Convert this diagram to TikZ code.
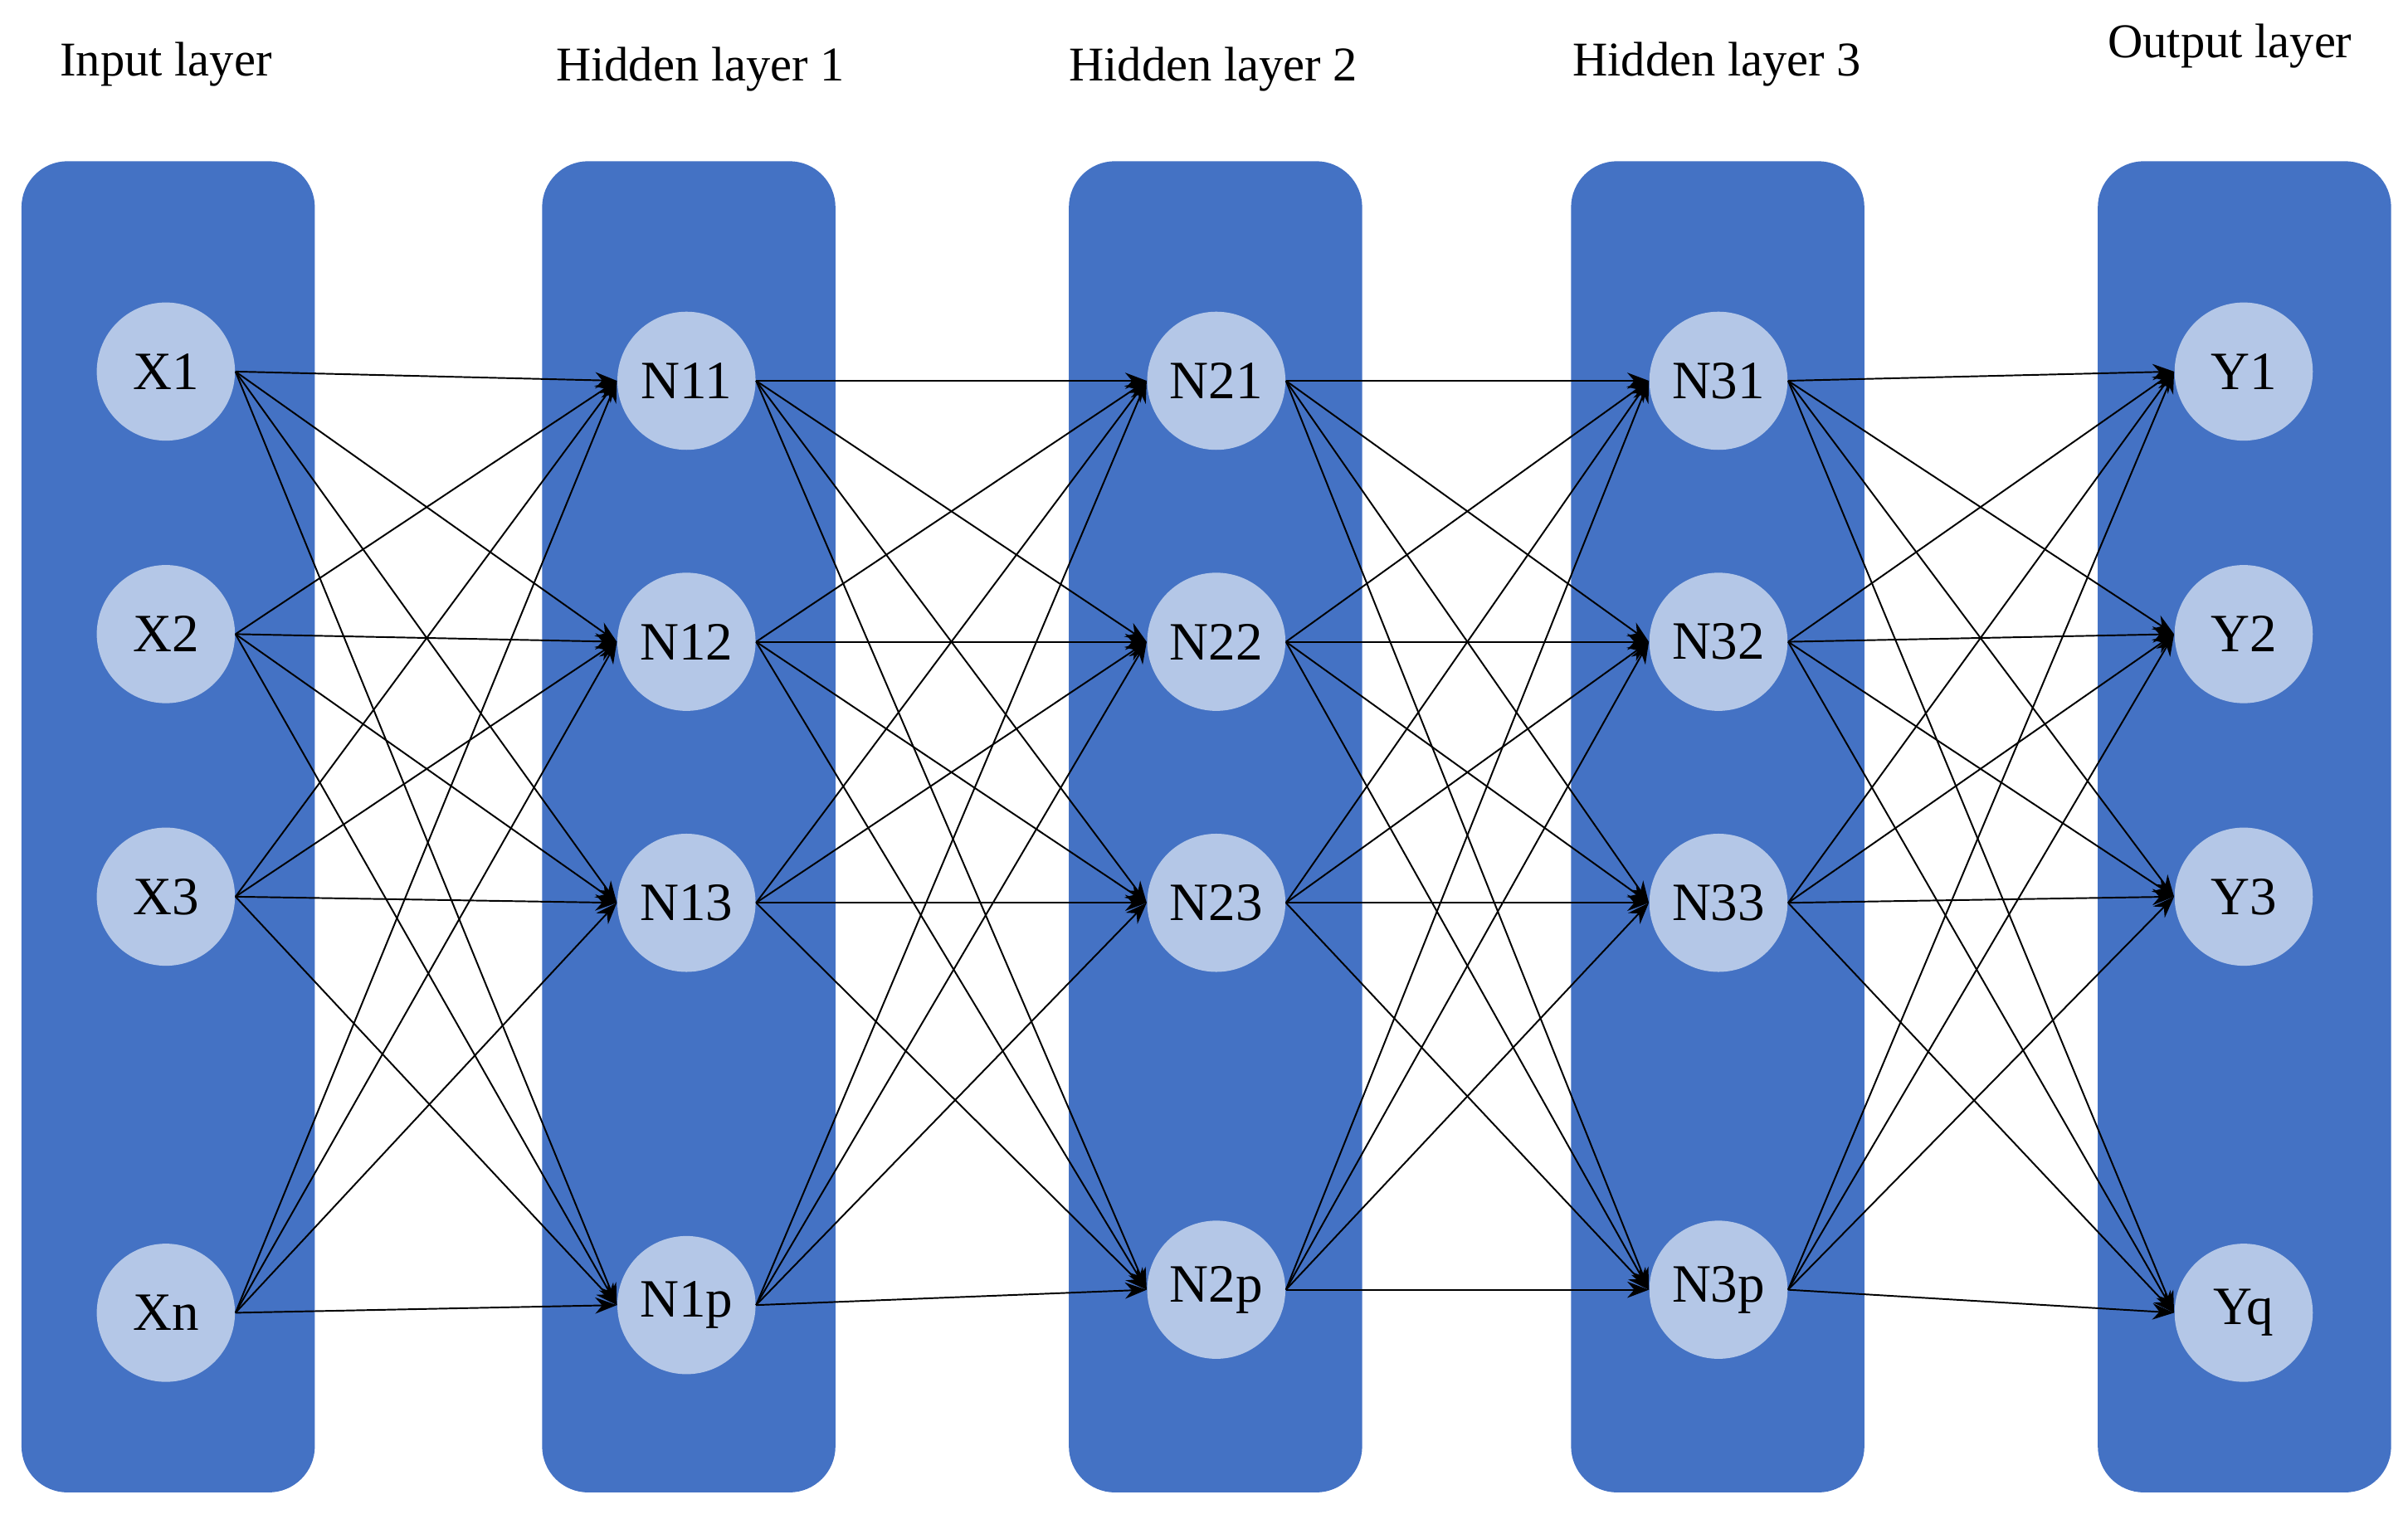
\documentclass[tikz,border=0pt]{standalone}
\usepackage{fontspec}
\setmainfont{Liberation Serif}
\usetikzlibrary{arrows.meta}
\definecolor{layerblue}{HTML}{4472C4}
\definecolor{unitblue}{HTML}{B4C7E7}
\begin{document}
\begin{tikzpicture}[x=0.02cm, y=-0.02cm,
    layer/.style = {fill=layerblue, rounded corners=0.6cm},
    unit/.style = {circle, fill=unitblue, minimum size=1.8cm, inner sep=0pt, font=\fontsize{20}{22}\selectfont},
    title/.style = {font=\fontsize{18}{20}\selectfont},
    link/.style = {-{Stealth[length=8pt,width=6pt]}, line width=0.6pt}]
    \useasboundingbox (0,0) rectangle (1568,989);

    % draw layer boxes
    \foreach \x in {14,353,696,1023,1366}
      \fill[layer] (\x,105) rectangle ++(191,867);

    % draw titles
    \node[title] (tin) at (108,42) {Input layer};
    \node[title] (th1) at (456,45) {Hidden layer 1};
    \node[title] (th2) at (790,45) {Hidden layer 2};
    \node[title] (th3) at (1118,42) {Hidden layer 3};
    \node[title] (tout) at (1452,30) {Output layer};

    % draw nodes
    \node[unit] (x1) at (108,242) {X1};
    \node[unit] (x2) at (108,413) {X2};
    \node[unit] (x3) at (108,584) {X3};
    \node[unit] (x4) at (108,855) {Xn};
    \node[unit] (a1) at (447,248) {N11};
    \node[unit] (a2) at (447,418) {N12};
    \node[unit] (a3) at (447,588) {N13};
    \node[unit] (a4) at (447,850) {N1p};
    \node[unit] (b1) at (792,248) {N21};
    \node[unit] (b2) at (792,418) {N22};
    \node[unit] (b3) at (792,588) {N23};
    \node[unit] (b4) at (792,840) {N2p};
    \node[unit] (c1) at (1119,248) {N31};
    \node[unit] (c2) at (1119,418) {N32};
    \node[unit] (c3) at (1119,588) {N33};
    \node[unit] (c4) at (1119,840) {N3p};
    \node[unit] (y1) at (1461,242) {Y1};
    \node[unit] (y2) at (1461,413) {Y2};
    \node[unit] (y3) at (1461,584) {Y3};
    \node[unit] (y4) at (1461,855) {Yq};

    % draw connections
    \foreach \s/\t in {x/a,a/b,b/c,c/y}
      \foreach \i in {1,...,4}
        \foreach \j in {1,...,4}
          \draw[link] (\s\i.east) -- (\t\j.west);
\end{tikzpicture}
\end{document}
